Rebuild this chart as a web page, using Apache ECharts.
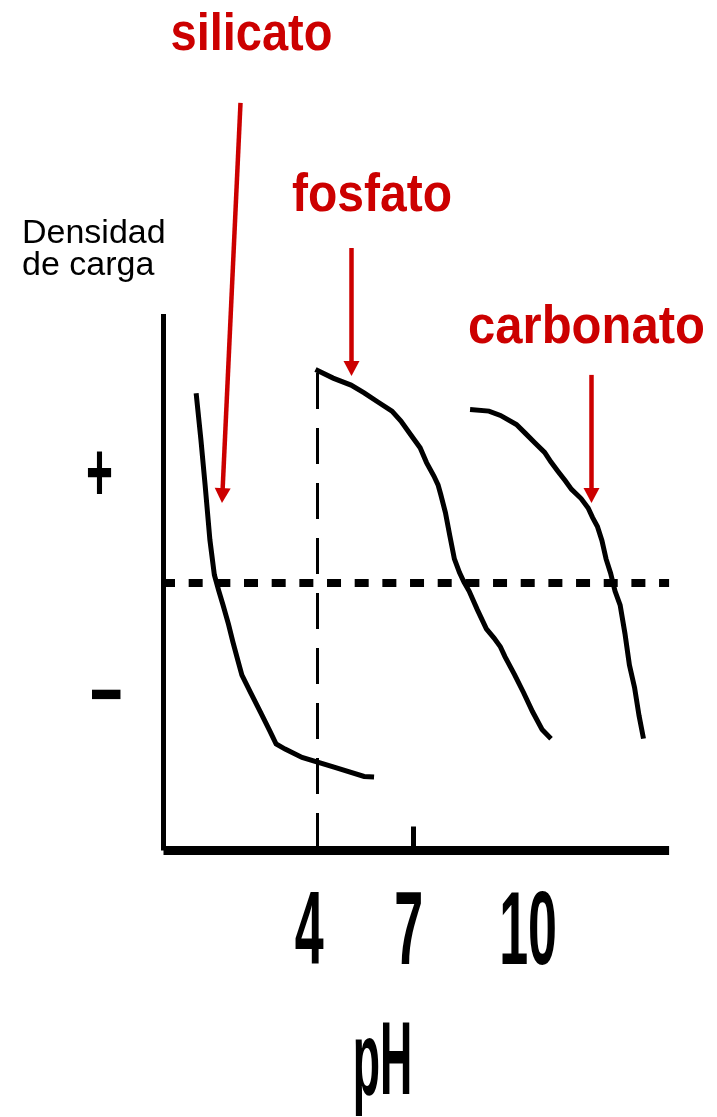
<!DOCTYPE html>
<html><head><meta charset="utf-8">
<script src="https://cdn.jsdelivr.net/npm/echarts@6/dist/echarts.min.js"></script>
<style>html,body{margin:0;padding:0;background:#fff}#c{width:717px;height:1117px}</style>
</head><body><div id="c"></div>
<script>
// ---- data (pH on x, relative charge density on y; 0 = neutral) ----
const silicato = [[0.22,0.705],[0.37,0.530],[0.50,0.363],[0.65,0.158],[0.79,0.027],[0.93,-0.033],[1.06,-0.085],[1.23,-0.156],[1.37,-0.223],[1.53,-0.294],[1.65,-0.346],[1.93,-0.413],[2.23,-0.484],[2.51,-0.551],[2.72,-0.603],[3.00,-0.622],[3.53,-0.653],[4.53,-0.689],[5.47,-0.724],[5.78,-0.726]];
const fosfato = [[3.95,0.793],[4.50,0.761],[5.06,0.735],[5.47,0.706],[5.90,0.672],[6.34,0.638],[6.62,0.601],[6.92,0.551],[7.22,0.501],[7.42,0.446],[7.65,0.396],[7.78,0.363],[7.86,0.329],[8.01,0.260],[8.15,0.172],[8.29,0.087],[8.45,0.036],[8.59,0.001],[8.75,-0.033],[9.01,-0.103],[9.29,-0.174],[9.53,-0.208],[9.73,-0.241],[9.87,-0.277],[10.17,-0.344],[10.45,-0.411],[10.73,-0.482],[11.03,-0.549],[11.31,-0.583]];
const carbonato = [[8.78,0.644],[9.37,0.638],[9.73,0.622],[10.23,0.588],[10.51,0.555],[10.81,0.519],[11.11,0.484],[11.31,0.448],[11.53,0.413],[11.75,0.379],[11.95,0.346],[12.25,0.312],[12.47,0.277],[12.61,0.241],[12.76,0.208],[12.90,0.156],[13.03,0.087],[13.17,0.035],[13.31,-0.033],[13.47,-0.085],[13.62,-0.191],[13.76,-0.309],[13.92,-0.392],[14.06,-0.497],[14.20,-0.583]];
const xTickValues = [4, 7, 10];
const xTickLabels = ['4', '7', '10'];
const minorTickValues = [7];
const refLineX = 4;
const yTickLabels = ['+', '−'];
const yTickValues = [0.4, -0.4];
const seriesNames = ['silicato', 'fosfato', 'carbonato'];
const arrowSilicato = [[1.606, 1.787], [1.028, 0.295]];
const arrowFosfato = [[5.075, 1.246], [5.075, 0.769]];
const arrowCarbonato = [[12.575, 0.773], [12.575, 0.295]];

const RED = '#CC0000';
const chart = echarts.init(document.getElementById('c'), null, {renderer: 'canvas'});

function lineSeries(name, data, extra) {
  return Object.assign({
    name: name, type: 'line', data: data, symbol: 'none', silent: true,
    smooth: false, lineStyle: {color: '#000', width: 5, join: 'miter'}, z: 3
  }, extra || {});
}

chart.setOption({
  animation: false,
  backgroundColor: '#fff',
  grid: {left: 163.5, top: 314, width: 505.6, height: 536.5},
  xAxis: {
    type: 'value', min: -0.8, max: 15,
    axisLine: {show: true, onZero: false, lineStyle: {color: '#000', width: 9, cap: 'butt'}},
    axisTick: {show: true, inside: true, length: 24, customValues: minorTickValues, lineStyle: {color: '#000', width: 5}},
    axisLabel: {show: false}, splitLine: {show: false}
  },
  yAxis: {
    type: 'value', min: -1, max: 1,
    axisLine: {show: true, onZero: false, lineStyle: {color: '#000', width: 5, cap: 'butt'}},
    axisTick: {show: false}, axisLabel: {show: false}, splitLine: {show: false}
  },
  series: [
    lineSeries(seriesNames[0], silicato, {
      markLine: {
        silent: true, symbol: ['none', 'none'], label: {show: false},
        animation: false,
        data: [
          [{coord: [-0.8, 0], lineStyle: {color: '#000', width: 8, type: [14, 13.67], dashOffset: 2.5}}, {coord: [15, 0]}],
          [{coord: [refLineX, 0.78], lineStyle: {color: '#000', width: 3, type: [36, 19]}}, {coord: [refLineX, -1]}]
        ]
      }
    }),
    lineSeries(seriesNames[1], fosfato),
    lineSeries(seriesNames[2], carbonato)
  ]
});

function px(v) { return chart.convertToPixel({gridIndex: 0}, v); }

function arrow(a) {
  const p0 = px(a[0]), p1 = px(a[1]);
  const dx = p1[0] - p0[0], dy = p1[1] - p0[1];
  const L = Math.sqrt(dx * dx + dy * dy), ux = dx / L, uy = dy / L;
  const hl = 15, hw = 8;
  const bx = p1[0] - ux * hl, by = p1[1] - uy * hl;
  return [
    {type: 'line', silent: true, z: 10, shape: {x1: p0[0], y1: p0[1], x2: bx + ux * 2, y2: by + uy * 2}, style: {stroke: RED, lineWidth: 4.5}},
    {type: 'polygon', silent: true, z: 10, shape: {points: [[p1[0], p1[1]], [bx - uy * hw, by + ux * hw], [bx + uy * hw, by - ux * hw]]}, style: {fill: RED}}
  ];
}

function txt(text, x, y, o) {
  o = o || {};
  return {
    type: 'text', silent: true, z: 10, x: x, y: y,
    scaleX: o.sx || 1, scaleY: o.sy || 1,
    style: {
      text: text, fill: o.color || '#000',
      fontSize: o.size, fontWeight: o.weight || 'normal',
      fontFamily: o.family || '"Liberation Sans", Arial, sans-serif',
      align: o.align || 'center', textAlign: o.align || 'center',
      verticalAlign: 'middle', textVerticalAlign: 'middle'
    }
  };
}

const tickNudge = [-8, -4.5, 19];
const g = [];
xTickValues.forEach(function (v, i) {
  const p = px([v, -1]);
  g.push(txt(xTickLabels[i], p[0] + tickNudge[i], 935, {size: 104, weight: 'bold', sx: 0.5}));
});
// y side signs
const pPlus = px([-0.8, yTickValues[0]]);
const pMinus = px([-0.8, yTickValues[1]]);
g.push(txt(yTickLabels[0], 99.5, pPlus[1] + 2.5, {size: 84, weight: 'bold', sx: 0.55}));
g.push(txt(yTickLabels[1], 106, pMinus[1] + 9.5, {size: 86, weight: 'bold', sx: 0.66}));
// axis titles
g.push(txt('pH', 382.5, 1065, {size: 104, weight: 'bold', sx: 0.43}));
g.push(txt('Densidad', 22, 234, {size: 34, align: 'left'}));
g.push(txt('de carga', 22, 266, {size: 34, align: 'left'}));
// series labels
g.push(txt(seriesNames[0], 251.5, 36, {size: 47, weight: 'bold', color: RED, sy: 1.1}));
g.push(txt(seriesNames[1], 372, 196, {size: 48, weight: 'bold', color: RED, sy: 1.1}));
g.push(txt(seriesNames[2], 586.5, 328, {size: 49, weight: 'bold', color: RED, sy: 1.08}));
// arrows
[arrowSilicato, arrowFosfato, arrowCarbonato].forEach(function (a) { arrow(a).forEach(function (e) { g.push(e); }); });

chart.setOption({graphic: {elements: g}});
</script>
</body></html>
